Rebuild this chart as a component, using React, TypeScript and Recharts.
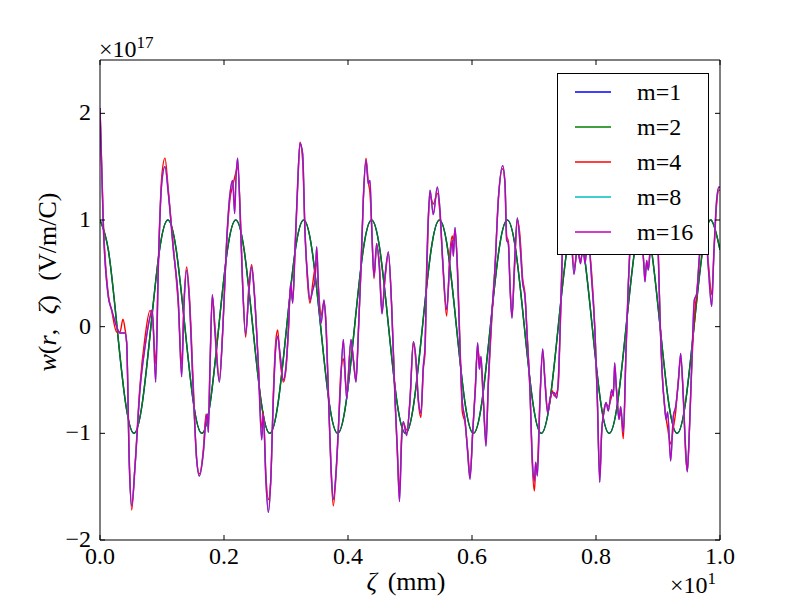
import React from 'react';
import { LineChart, Line, XAxis, YAxis, Legend } from 'recharts';

// axis ticks
const zetaTicks = [0, 0.2, 0.4, 0.6, 0.8, 1.0];
const wTicks = [-2, -1, 0, 1, 2];

// legend
const seriesNames = ['m=1', 'm=2', 'm=4', 'm=8', 'm=16'];
const seriesColors = ['#0000ff', '#008000', '#ff0000', '#00bfbf', '#bf00bf'];

// smooth wake (m=1, m=2), zeta in units of 10 mm, w in 1e17 V/m/C
const zetaSmooth = [
    0, 0.0137, 0.0274, 0.0411, 0.0548, 0.0684, 0.0821, 0.0958,
    0.1095, 0.1232, 0.1369, 0.1506, 0.1643, 0.1779, 0.1916, 0.2053,
    0.2190, 0.2327, 0.2464, 0.2601, 0.2738, 0.2874, 0.3011, 0.3148,
    0.3285, 0.3422, 0.3559, 0.3696, 0.3833, 0.3969, 0.4106, 0.4243,
    0.4380, 0.4517, 0.4654, 0.4791, 0.4928, 0.5064, 0.5201, 0.5338,
    0.5475, 0.5612, 0.5749, 0.5886, 0.6023, 0.6159, 0.6296, 0.6433,
    0.6570, 0.6707, 0.6844, 0.6981, 0.7118, 0.7254, 0.7391, 0.7528,
    0.7665, 0.7802, 0.7939, 0.8076, 0.8213, 0.8349, 0.8486, 0.8623,
    0.8760, 0.8897, 0.9034, 0.9171, 0.9308, 0.9444, 0.9581, 0.9718,
    0.9855, 1.0,
];
const wM1 = [
    1, 0.71, 0, -0.71, -1, -0.71, 0, 0.71,
    1, 0.71, 0, -0.71, -1, -0.71, 0, 0.71,
    1, 0.71, 0, -0.71, -1, -0.71, 0, 0.71,
    1, 0.71, 0, -0.71, -1, -0.71, 0, 0.71,
    1, 0.71, 0, -0.71, -1, -0.71, 0, 0.71,
    1, 0.71, 0, -0.71, -1, -0.71, 0, 0.71,
    1, 0.71, 0, -0.71, -1, -0.71, 0, 0.71,
    1, 0.71, 0, -0.71, -1, -0.71, 0, 0.71,
    1, 0.71, 0, -0.71, -1, -0.71, 0, 0.71,
    1, 0.72,
];
const wM2 = wM1; // m=2 sits on top of m=1

// spiky wake (m=4, m=8, m=16)
const zeta = [
    0, 0.0054, 0.0134, 0.0188, 0.0269, 0.0323, 0.0370, 0.0403, 0.0430, 0.0473,
    0.0511, 0.0565, 0.0645, 0.0726, 0.0806, 0.0844, 0.0898, 0.0941, 0.0995, 0.1048,
    0.1102, 0.1183, 0.1263, 0.1317, 0.1355, 0.1398, 0.1441, 0.1505, 0.1559, 0.1602,
    0.1667, 0.1710, 0.1731, 0.1747, 0.1774, 0.1812, 0.1855, 0.1925, 0.1978, 0.2043,
    0.2097, 0.2140, 0.2172, 0.2194, 0.2220, 0.2258, 0.2301, 0.2349, 0.2403, 0.2446,
    0.2489, 0.2554, 0.2608, 0.2634, 0.2677, 0.2715, 0.2753, 0.2796, 0.2833, 0.2866,
    0.2903, 0.2957, 0.3000, 0.3038, 0.3075, 0.3108, 0.3145, 0.3188, 0.3226, 0.3269,
    0.3306, 0.3344, 0.3387, 0.3430, 0.3468, 0.3495, 0.3527, 0.3565, 0.3613, 0.3645,
    0.3683, 0.3726, 0.3763, 0.3806, 0.3844, 0.3882, 0.3925, 0.3978, 0.4048, 0.4086,
    0.4129, 0.4167, 0.4210, 0.4247, 0.4290, 0.4328, 0.4355, 0.4382, 0.4419, 0.4462,
    0.4505, 0.4548, 0.4597, 0.4651, 0.4704, 0.4758, 0.4796, 0.4830, 0.4866, 0.4892,
    0.4946, 0.5000, 0.5054, 0.5097, 0.5134, 0.5177, 0.5215, 0.5242, 0.5269, 0.5296,
    0.5323, 0.5376, 0.5441, 0.5484, 0.5527, 0.5591, 0.5645, 0.5683, 0.5699, 0.5726,
    0.5763, 0.5806, 0.5844, 0.5887, 0.5930, 0.5968, 0.6011, 0.6054, 0.6091, 0.6118,
    0.6145, 0.6183, 0.6226, 0.6263, 0.6317, 0.6371, 0.6425, 0.6495, 0.6532, 0.6559,
    0.6586, 0.6613, 0.6645, 0.6683, 0.6731, 0.6774, 0.6817, 0.6855, 0.6892, 0.6935,
    0.6973, 0.7005, 0.7027, 0.7054, 0.7097, 0.7140, 0.7177, 0.7220, 0.7258, 0.7296,
    0.7328, 0.7366, 0.7392, 0.7419, 0.7457, 0.7500, 0.7540, 0.7590, 0.7645, 0.7699,
    0.7750, 0.7790, 0.7823, 0.7870, 0.7930, 0.7984, 0.8022, 0.8060, 0.8091, 0.8129,
    0.8161, 0.8199, 0.8253, 0.8280, 0.8301, 0.8333, 0.8371, 0.8398, 0.8441, 0.8484,
    0.8522, 0.8559, 0.8610, 0.8656, 0.8710, 0.8763, 0.8790, 0.8817, 0.8844, 0.8871,
    0.8935, 0.8970, 0.9005, 0.9032, 0.9075, 0.9102, 0.9129, 0.9156, 0.9204, 0.9247,
    0.9285, 0.9328, 0.9366, 0.9409, 0.9446, 0.9473, 0.9505, 0.9543, 0.9586, 0.9624,
    0.9667, 0.9742, 0.9812, 0.9866, 0.9903, 0.9946, 0.9984, 1.0000,
];
const wM16 = [
    2.05, 0.93, 0.28, 0.16, 0.00, -0.06, -0.06, -0.06, -0.15, -1.31,
    -1.68, -1.31, -0.59, -0.19, 0.09, 0.16, -0.52, 0.56, 1.34, 1.50,
    1.25, 0.72, 0.25, -0.47, 0.20, 0.53, 0.25, -0.62, -1.24, -1.40,
    -1.18, -0.87, -0.82, -0.99, -0.37, 0.30, -0.06, -0.52, -0.06, 0.81,
    1.25, 1.37, 1.06, 1.40, 1.58, 1.09, 0.38, -0.07, 0.34, 0.56,
    0.31, -0.37, -1.06, -0.82, -1.46, -1.74, -1.46, -0.68, -0.21, -0.09,
    -0.25, -0.50, -0.37, -0.03, 0.41, 0.22, 0.72, 1.34, 1.72, 1.62,
    0.88, 0.50, 0.25, 0.34, 0.44, 0.75, 0.31, 0.03, 0.25, 0.00,
    -0.62, -1.31, -1.62, -1.37, -0.96, -0.52, -0.12, -0.68, -0.12, -0.31,
    -0.52, -0.06, 0.56, 1.19, 1.56, 1.34, 1.37, 0.93, 0.47, 0.78,
    0.56, 0.12, 0.47, 0.70, 0.19, -0.68, -1.15, -1.64, -1.05, -0.89,
    -1.02, -0.68, -0.14, -0.31, -0.68, -0.81, -0.37, -0.19, 0.56, 1.03,
    1.28, 1.05, 1.31, 1.09, 0.63, 0.16, 0.63, 0.81, 0.66, 0.93,
    0.56, -0.21, -0.71, -0.87, -1.18, -1.43, -0.99, -0.59, -0.15, -0.40,
    -0.28, -0.68, -1.12, -0.52, 0.09, 0.56, 1.19, 1.51, 1.34, 0.81,
    0.78, 0.38, 0.08, 0.56, 1.02, 0.78, 0.41, 0.28, -0.12, -0.59,
    -1.24, -1.45, -1.27, -1.40, -0.68, -0.21, -0.52, -0.81, -0.68, -0.62,
    -0.62, -0.67, -0.50, -0.06, 0.72, 1.30, 1.45, 1.00, 0.49, 0.75,
    0.59, 0.75, 0.59, 0.85, 0.44, -0.06, -0.68, -1.46, -0.99, -0.80,
    -0.71, -0.79, -0.59, -0.65, -0.34, -0.62, -0.87, -0.75, -0.99, -0.21,
    0.41, 0.88, 1.35, 1.45, 1.00, 0.66, 0.42, 0.62, 0.53, 0.70,
    1.35, 1.20, 0.66, 0.09, -0.52, -0.71, -0.87, -0.80, -1.26, -0.84,
    -0.75, -0.52, -0.25, -0.68, -1.15, -1.36, -0.99, -0.37, 0.25, 0.31,
    0.66, 1.10, 0.55, 0.19, 0.72, 1.19, 1.31, 1.30,
];
const wM8 = wM16; // cyan hides under magenta
const wM4 = [
    2.05, 0.98, 0.30, 0.15, -0.05, -0.05, 0.07, -0.02, -0.15, -1.25,
    -1.72, -1.30, -0.55, -0.10, 0.15, 0.10, -0.35, 0.60, 1.40, 1.58,
    1.28, 0.75, 0.20, -0.35, 0.25, 0.56, 0.30, -0.55, -1.25, -1.38,
    -1.15, -0.82, -0.85, -0.90, -0.40, 0.28, 0.00, -0.50, -0.05, 0.78,
    1.20, 1.32, 1.40, 1.45, 1.50, 1.15, 0.40, -0.10, 0.40, 0.58,
    0.33, -0.35, -0.95, -0.80, -1.40, -1.62, -1.45, -0.62, -0.15, -0.03,
    -0.30, -0.52, -0.40, -0.05, 0.38, 0.25, 0.70, 1.30, 1.73, 1.55,
    0.92, 0.45, 0.22, 0.40, 0.55, 0.60, 0.33, 0.10, 0.23, 0.05,
    -0.60, -1.35, -1.68, -1.40, -0.98, -0.45, -0.30, -0.60, -0.15, -0.30,
    -0.50, -0.05, 0.55, 1.20, 1.58, 1.35, 1.25, 0.95, 0.45, 0.75,
    0.60, 0.15, 0.45, 0.68, 0.20, -0.65, -1.20, -1.55, -1.00, -0.90,
    -0.97, -0.70, -0.15, -0.35, -0.70, -0.85, -0.40, -0.25, 0.45, 1.00,
    1.22, 1.15, 1.25, 1.05, 0.60, 0.10, 0.70, 0.85, 0.80, 0.90,
    0.60, -0.15, -0.80, -0.90, -1.15, -1.40, -1.00, -0.55, -0.20, -0.30,
    -0.35, -0.70, -1.05, -0.55, 0.05, 0.55, 1.20, 1.48, 1.35, 0.85,
    0.80, 0.40, 0.10, 0.50, 1.00, 0.85, 0.45, 0.30, -0.10, -0.60,
    -1.30, -1.54, -1.35, -1.30, -0.65, -0.25, -0.50, -0.78, -0.70, -0.60,
    -0.65, -0.62, -0.55, -0.10, 0.65, 1.25, 1.42, 1.05, 0.55, 0.70,
    0.62, 0.72, 0.65, 0.80, 0.50, -0.05, -0.70, -1.40, -1.00, -0.78,
    -0.72, -0.75, -0.65, -0.60, -0.45, -0.60, -0.85, -0.80, -1.05, -0.25,
    0.40, 0.90, 1.33, 1.40, 1.05, 0.65, 0.50, 0.58, 0.55, 0.72,
    1.30, 1.25, 0.70, 0.10, -0.50, -0.72, -0.85, -0.95, -1.10, -0.95,
    -0.80, -0.50, -0.30, -0.65, -1.20, -1.35, -1.00, -0.40, 0.10, 0.30,
    0.62, 1.05, 0.60, 0.30, 0.70, 1.15, 1.28, 1.28,
];

const toRows = (xs: number[], ys: number[]) => xs.map((z, i) => ({ zeta: z, w: ys[i] }));

const smoothSeries = [toRows(zetaSmooth, wM1), toRows(zetaSmooth, wM2)];
const spikySeries = [toRows(zeta, wM4), toRows(zeta, wM8), toRows(zeta, wM16)];
const allSeries = [...smoothSeries, ...spikySeries];

const FONT = '"Liberation Serif", "DejaVu Serif", serif';
const TICK = 5;
const txt = { fontFamily: FONT, fontSize: 24, fill: '#000' };

const fmtY = (v: number) => (v < 0 ? '\u2212' + Math.abs(v) : String(v));

const BottomTick = (props: any) => {
    const { x, y, payload } = props;
    return (
        <g>
            <line x1={x} y1={y} x2={x} y2={y - TICK} stroke="#000" strokeWidth={1} />
            <text x={x} y={y + 24} textAnchor="middle" style={txt}>
                {Number(payload.value).toFixed(1)}
            </text>
        </g>
    );
};

const TopTick = (props: any) => {
    const { x, y } = props;
    return <line x1={x} y1={y} x2={x} y2={y + TICK} stroke="#000" strokeWidth={1} />;
};

const LeftTick = (props: any) => {
    const { x, y, payload } = props;
    return (
        <g>
            <line x1={x} y1={y} x2={x + TICK} y2={y} stroke="#000" strokeWidth={1} />
            <text x={x - 9} y={y + 7} textAnchor="end" style={txt}>
                {fmtY(payload.value)}
            </text>
        </g>
    );
};

const RightTick = (props: any) => {
    const { x, y } = props;
    return <line x1={x} y1={y} x2={x - TICK} y2={y} stroke="#000" strokeWidth={1} />;
};

const XLabel = (props: any) => {
    const { viewBox } = props;
    const { x, y, width } = viewBox;
    return (
        <g>
            <text
                x={x + width / 2 - 4}
                y={y + 50}
                textAnchor="middle"
                style={{ ...txt, fontSize: 26, wordSpacing: 4 }}
            >
                <tspan fontStyle="italic">ζ</tspan> (mm)
            </text>
            <text x={x + width - 4} y={y + 53} textAnchor="end" style={txt}>
                ×10<tspan dy={-9} style={{ fontSize: 17 }}>1</tspan>
            </text>
        </g>
    );
};

const YLabel = (props: any) => {
    const { viewBox } = props;
    const { x, y, height } = viewBox;
    const cx = x - 43;
    const cy = y + height / 2 - 18;
    return (
        <g>
            <text
                x={cx}
                y={cy}
                textAnchor="middle"
                transform={`rotate(-90, ${cx}, ${cy})`}
                style={{ ...txt, fontSize: 26, wordSpacing: 8 }}
            >
                <tspan fontStyle="italic">w</tspan>(<tspan fontStyle="italic">r</tspan>,{' '}
                <tspan fontStyle="italic">ζ</tspan>) (V/m/C)
            </text>
            <text x={x} y={y - 3} style={txt}>
                ×10<tspan dy={-9} style={{ fontSize: 17 }}>17</tspan>
            </text>
        </g>
    );
};

const LegendBox = () => (
    <div
        style={{
            width: 150,
            height: 180,
            border: '1px solid #000',
            background: '#fff',
        }}
    >
        <svg width={150} height={180}>
            {seriesNames.map((name, i) => {
                const cy = 18 + 35 * i;
                return (
                    <g key={name}>
                        <line x1={17} y1={cy} x2={53} y2={cy} stroke={seriesColors[i]} strokeWidth={1.4} />
                        <text x={79} y={cy + 8} style={txt}>
                            {name}
                        </text>
                    </g>
                );
            })}
        </svg>
    </div>
);

// axes get 1px of room each (Recharts skips a 0-sized axis), margins make the plot 100..720 x 60..540
const axisProps = {
    type: 'number' as const,
    allowDataOverflow: true,
    tickSize: 0,
    tickMargin: 0,
    tickLine: false,
    axisLine: { stroke: '#000', strokeWidth: 1 },
};

export default function App() {
    return (
        <div
            style={{
                position: 'absolute',
                left: 0,
                top: 0,
                width: 800,
                height: 600,
                background: '#fff',
                fontFamily: FONT,
            }}
        >
            <LineChart width={800} height={600} margin={{ top: 59, right: 79, bottom: 59, left: 99 }}>
                <XAxis
                    {...axisProps}
                    xAxisId="bottom"
                    dataKey="zeta"
                    domain={[0, 1]}
                    ticks={zetaTicks}
                    height={1}
                    tick={(p: any) => <BottomTick {...p} />}
                    label={(p: any) => <XLabel {...p} />}
                />
                <XAxis
                    {...axisProps}
                    xAxisId="top"
                    orientation="top"
                    dataKey="zeta"
                    domain={[0, 1]}
                    ticks={zetaTicks}
                    height={1}
                    tick={(p: any) => <TopTick {...p} />}
                />
                <YAxis
                    {...axisProps}
                    yAxisId="left"
                    domain={[-2, 2.5]}
                    ticks={wTicks}
                    width={1}
                    tick={(p: any) => <LeftTick {...p} />}
                    label={(p: any) => <YLabel {...p} />}
                />
                <YAxis
                    {...axisProps}
                    yAxisId="right"
                    orientation="right"
                    domain={[-2, 2.5]}
                    ticks={wTicks}
                    width={1}
                    tick={(p: any) => <RightTick {...p} />}
                />
                {/* keeps the mirrored top/right axes alive */}
                <Line
                    xAxisId="top"
                    yAxisId="right"
                    data={smoothSeries[0]}
                    dataKey="w"
                    stroke="none"
                    dot={false}
                    activeDot={false}
                    legendType="none"
                    isAnimationActive={false}
                />
                {allSeries.map((rows, i) => (
                    <Line
                        key={seriesNames[i]}
                        xAxisId="bottom"
                        yAxisId="left"
                        data={rows}
                        dataKey="w"
                        name={seriesNames[i]}
                        type={i < 2 ? 'natural' : 'monotone'}
                        stroke={seriesColors[i]}
                        strokeWidth={1.4}
                        dot={false}
                        activeDot={false}
                        isAnimationActive={false}
                    />
                ))}
                <Legend
                    layout="vertical"
                    align="center"
                    verticalAlign="middle"
                    content={() => <LegendBox />}
                    wrapperStyle={{ position: 'absolute', left: 557, top: 73, width: 152, height: 182 }}
                />
            </LineChart>
        </div>
    );
}
